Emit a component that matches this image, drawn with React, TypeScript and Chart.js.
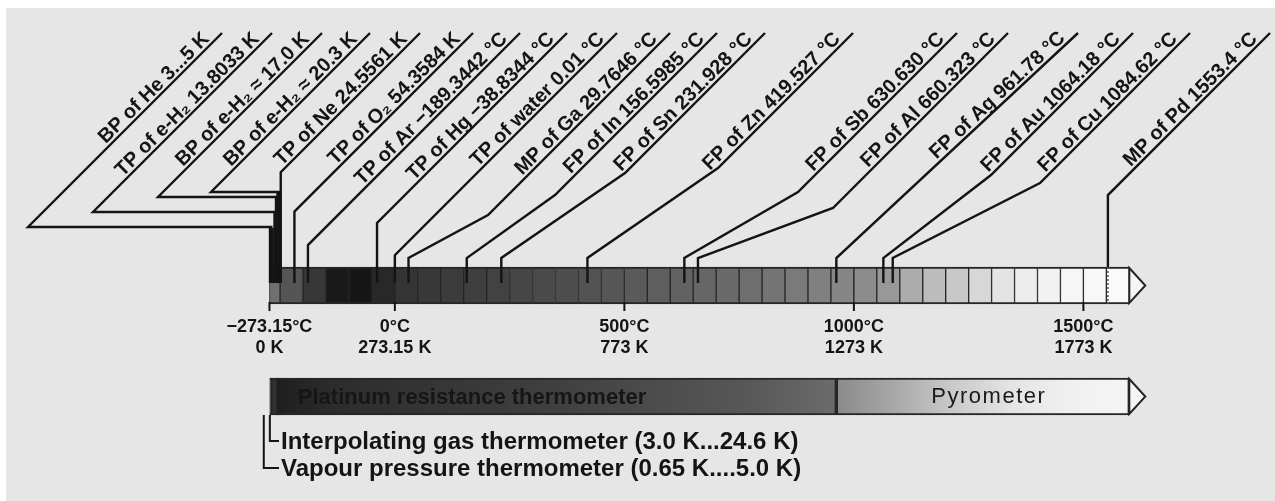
import React, { useEffect, useRef } from 'react';
import { Chart, registerables } from 'chart.js';

Chart.register(...registerables);

// ---------------- data ----------------
const FIXED_POINT_LABELS = [
  'BP of He 3...5 K',
  'TP of e-H₂ 13.8033 K',
  'BP of e-H₂ ≈ 17.0 K',
  'BP of e-H₂ ≈ 20.3 K',
  'TP of Ne 24.5561 K',
  'TP of O₂ 54.3584 K',
  'TP of Ar −189.3442 °C',
  'TP of Hg −38.8344 °C',
  'TP of water 0.01 °C',
  'MP of Ga 29.7646 °C',
  'FP of In 156.5985 °C',
  'FP of Sn 231.928 °C',
  'FP of Zn 419.527 °C',
  'FP of Sb 630.630 °C',
  'FP of Al 660.323 °C',
  'FP of Ag 961.78 °C',
  'FP of Au 1064.18 °C',
  'FP of Cu 1084.62 °C',
  'MP of Pd 1553.4 °C',
];
// temperatures in °C
const FIXED_POINT_TEMP_C = [
  -269.15, -259.3467, -256.15, -252.85, -248.5939, -218.7916, -189.3442, -38.8344, 0.01,
  29.7646, 156.5985, 231.928, 419.527, 630.63, 660.323, 961.78, 1064.18, 1084.62, 1553.4,
];

const TICK_C = [-273.15, 0, 500, 1000, 1500];
const TICK_LABEL_C = ['−273.15°C', '0°C', '500°C', '1000°C', '1500°C'];
const TICK_LABEL_K = ['0 K', '273.15 K', '773 K', '1273 K', '1773 K'];

// scale cells (°C)
const CELL_EDGES_C = [
  -273.15, -250, -200, -150, -100, -50, 0, 50, 100, 150, 200, 250, 300, 350, 400, 450, 500,
  550, 600, 650, 700, 750, 800, 850, 900, 950, 1000, 1050, 1100, 1150, 1200, 1250, 1300,
  1350, 1400, 1450, 1500, 1550, 1600,
];

// thermometer ranges (°C)
const THERMO_NAMES = [
  'Vapour pressure thermometer (0.65 K....5.0 K)',
  'Interpolating gas thermometer (3.0 K...24.6 K)',
  'Platinum resistance thermometer',
  'Pyrometer',
];
const THERMO_FROM_C = [-272.5, -270.15, -259.3467, 961.78];
const THERMO_TO_C = [-268.15, -248.55, 961.78, 1600];

// ---------------- styles / layout ----------------
const CELL_SHADE = [
  112, 85, 55, 25, 22, 40, 52, 56, 60, 63, 66, 70, 74, 78, 82, 86, 90, 94, 98, 102, 106, 110,
  116, 122, 128, 134, 140, 152, 172, 188, 200, 215, 228, 236, 242, 246, 248, 250,
];
const THERMO_GRADIENT: [number, string][][] = [
  [[0, '#2a2a2a'], [1, '#2a2a2a']],
  [[0, '#333333'], [1, '#333333']],
  [[0, '#1e1e1e'], [0.1, '#2c2c2c'], [0.5, '#404040'], [0.85, '#585858'], [1, '#6c6c6c']],
  [[0, '#8a8a8a'], [0.2, '#a8a8a8'], [0.4, '#cacaca'], [0.6, '#e4e4e4'], [0.8, '#f0f0f0'], [1, '#f5f5f5']],
];
const THERMO_FLAT = ['#2a2a2a', '#333333', '#404040', '#cccccc'];

// label leader layout (pixels)
const LABEL_TOP_X = [222, 272, 322, 370, 420, 473, 520, 567, 617, 670, 717, 765, 853, 957, 1008, 1078, 1133, 1190, 1270];
const LABEL_VTOP_Y: (number | null)[] = [227, 212, 197, 192, null, null, null, null, null, 258, 258, 258, 258, 258, 258, 258, 258, 258, null];
const LABEL_KNEE_Y: (number | null)[] = [227, 212, 197, 192, null, null, null, null, null, 215, 195, 173, 168, 192, 208, null, 175, 183, null];
const LEADER_HEAVY = [true, true, true, true, false, false, false, false, false, false, false, false, false, false, false, false, false, false, false];
const LEADER_DOTTED_IN_BAR = [false, false, false, false, false, false, false, false, false, false, false, false, false, false, false, false, false, false, true];

const X_MIN_C = -860.2;
const X_MAX_C = 1917.4;
const H = 501;
const W = 1275;
const LABEL_TOP_Y = 33;
const SCALE_ROW_Y = 285.5;
const THERMO_ROW_Y = 396.5;
const BAR_THICK = 37;
const TICK_ROW1_Y = 327;
const TICK_ROW2_Y = 348;
const BRACKET_ROW_Y = [468, 441];
const INK = '#141414';
const PAPER = '#e6e6e6';
const FONT = '"Liberation Sans", Arial, Helvetica, sans-serif';

const overlay = {
  id: 'overlay',
  beforeDraw(chart: any) {
    const { ctx, width, height } = chart;
    ctx.save();
    ctx.fillStyle = '#ffffff';
    ctx.fillRect(0, 0, width, height);
    ctx.fillStyle = PAPER;
    ctx.fillRect(6, 8, width - 6, height - 8);
    ctx.restore();
  },
  afterDatasetsDraw(chart: any) {
    const { ctx } = chart;
    const xs = chart.scales.x;
    const ys = chart.scales.y;
    const X = (v: number) => xs.getPixelForValue(v);
    const Y = (v: number) => ys.getPixelForValue(v);
    const barTop = Y(SCALE_ROW_Y) - BAR_THICK / 2;
    const barBot = Y(SCALE_ROW_Y) + BAR_THICK / 2;
    const topY = Y(LABEL_TOP_Y);

    ctx.save();
    ctx.strokeStyle = INK;
    ctx.fillStyle = INK;
    ctx.lineJoin = 'miter';
    ctx.lineCap = 'butt';

    // arrow heads
    const arrow = (x0: number, yc: number, fill: string) => {
      ctx.beginPath();
      ctx.moveTo(x0, yc - BAR_THICK / 2 + 1);
      ctx.lineTo(x0 + 16, yc);
      ctx.lineTo(x0, yc + BAR_THICK / 2 - 1);
      ctx.closePath();
      ctx.fillStyle = fill;
      ctx.fill();
      ctx.lineWidth = 2;
      ctx.strokeStyle = '#262626';
      ctx.stroke();
    };
    arrow(X(CELL_EDGES_C[CELL_EDGES_C.length - 1]), Y(SCALE_ROW_Y), '#f6f6f6');
    arrow(X(THERMO_TO_C[3]), Y(THERMO_ROW_Y), '#f6f6f6');

    ctx.strokeStyle = INK;
    ctx.fillStyle = INK;

    // leaders + labels
    FIXED_POINT_TEMP_C.forEach((t, i) => {
      const ax = X(t);
      const tx = LABEL_TOP_X[i];
      const vt = LABEL_VTOP_Y[i];
      const vTop = vt == null ? topY + (tx - ax) : Y(vt);
      const start = LEADER_DOTTED_IN_BAR[i] ? barTop : barTop + 16;
      const pts: [number, number][] = [[ax, start], [ax, vTop]];
      const k = LABEL_KNEE_Y[i];
      if (vt != null && k != null) {
        const ky = Y(k);
        pts.push([tx - (ky - topY), ky]);
      }
      pts.push([tx, topY]);

      ctx.lineWidth = 2.4;
      ctx.beginPath();
      ctx.moveTo(pts[0][0], pts[0][1]);
      for (let j = 1; j < pts.length; j++) ctx.lineTo(pts[j][0], pts[j][1]);
      ctx.stroke();
      if (LEADER_HEAVY[i]) {
        ctx.lineWidth = 5;
        ctx.beginPath();
        ctx.moveTo(ax, barTop + 16);
        ctx.lineTo(ax, vTop + 1);
        ctx.stroke();
      }
      if (LEADER_DOTTED_IN_BAR[i]) {
        ctx.save();
        ctx.lineWidth = 1.5;
        ctx.strokeStyle = '#555';
        ctx.setLineDash([2, 2]);
        ctx.beginPath();
        ctx.moveTo(ax, barTop);
        ctx.lineTo(ax, barBot);
        ctx.stroke();
        ctx.restore();
      }

      const [px, py] = pts[pts.length - 2];
      const dx = tx - px;
      const dy = topY - py;
      const len = Math.hypot(dx, dy);
      const ux = dx / len;
      const uy = dy / len;
      const nx = uy;
      const ny = -ux;
      const inset = 13;
      const lift = 3.5;
      ctx.save();
      ctx.translate(tx - ux * inset + nx * lift, topY - uy * inset + ny * lift);
      ctx.rotate(Math.atan2(uy, ux));
      ctx.font = `bold 20px ${FONT}`;
      ctx.textAlign = 'right';
      ctx.textBaseline = 'alphabetic';
      ctx.fillText(FIXED_POINT_LABELS[i], 0, 0);
      ctx.restore();
    });

    // ticks + tick labels
    ctx.lineWidth = 2;
    ctx.font = `bold 18px ${FONT}`;
    ctx.textAlign = 'center';
    ctx.textBaseline = 'middle';
    TICK_C.forEach((t, i) => {
      const x = X(t);
      ctx.beginPath();
      ctx.moveTo(x, barBot - 2);
      ctx.lineTo(x, barBot + 7);
      ctx.stroke();
      ctx.fillText(TICK_LABEL_C[i], x, Y(TICK_ROW1_Y));
      ctx.fillText(TICK_LABEL_K[i], x, Y(TICK_ROW2_Y));
    });

    // thermometer texts
    const lowBot = Y(THERMO_ROW_Y) + BAR_THICK / 2;
    ctx.font = `bold 22px ${FONT}`;
    ctx.textAlign = 'left';
    ctx.fillStyle = '#161616';
    ctx.fillText(THERMO_NAMES[2], X(THERMO_FROM_C[2]) + 22, Y(THERMO_ROW_Y) + 1);
    ctx.fillStyle = '#1a1a1a';
    ctx.textAlign = 'center';
    ctx.font = `22px ${FONT}`;
    (ctx as any).letterSpacing = '1.5px';
    ctx.fillText(THERMO_NAMES[3], (X(THERMO_FROM_C[3]) + X(THERMO_TO_C[3])) / 2 + 6, Y(THERMO_ROW_Y));
    (ctx as any).letterSpacing = '0px';

    // brackets for the low-temperature thermometers
    ctx.strokeStyle = INK;
    ctx.fillStyle = INK;
    ctx.lineWidth = 2;
    ctx.font = `bold 24px ${FONT}`;
    ctx.textAlign = 'left';
    const bracketX = [X(THERMO_FROM_C[0]) - 6, X(THERMO_FROM_C[1]) - 1];
    [0, 1].forEach((i) => {
      const bx = bracketX[i];
      const by = Y(BRACKET_ROW_Y[i]);
      ctx.beginPath();
      ctx.moveTo(bx, lowBot);
      ctx.lineTo(bx, by);
      ctx.lineTo(279, by);
      ctx.stroke();
      ctx.fillText(THERMO_NAMES[i], 281, by + 1);
    });

    ctx.restore();
  },
};

export default function App() {
  const ref = useRef<HTMLCanvasElement>(null);
  useEffect(() => {
    const cellData = CELL_SHADE.map((_, i) => ({ x: [CELL_EDGES_C[i], CELL_EDGES_C[i + 1]], y: SCALE_ROW_Y }));
    const thermoData = THERMO_NAMES.map((_, i) => ({ x: [THERMO_FROM_C[i], THERMO_TO_C[i]], y: THERMO_ROW_Y }));
    const chart = new Chart(ref.current as HTMLCanvasElement, {
      type: 'bar',
      data: {
        datasets: [
          {
            label: 'ITS-90 scale',
            data: cellData as any,
            stack: 'row',
            barThickness: BAR_THICK,
            backgroundColor: CELL_SHADE.map((v) => `rgb(${v},${v},${v})`),
            borderColor: '#262626',
            borderWidth: { top: 2, bottom: 2, left: 1, right: 1 } as any,
            borderSkipped: false,
          },
          {
            label: 'Thermometers',
            data: thermoData as any,
            stack: 'row',
            barThickness: BAR_THICK,
            backgroundColor: (c: any) => {
              const i = c.dataIndex;
              const ch = c.chart;
              const sx = ch && ch.scales && ch.scales.x;
              if (!sx || i == null || i < 0 || i >= THERMO_NAMES.length) return '#555555';
              const x0 = sx.getPixelForValue(THERMO_FROM_C[i]);
              const x1 = sx.getPixelForValue(THERMO_TO_C[i]);
              if (!isFinite(x0) || !isFinite(x1) || x0 === x1) return THERMO_FLAT[i];
              const g = ch.ctx.createLinearGradient(x0, 0, x1, 0);
              THERMO_GRADIENT[i].forEach(([s, col]) => g.addColorStop(s, col));
              return g;
            },
            borderColor: '#262626',
            borderWidth: 2,
            borderSkipped: false,
          },
        ],
      },
      options: {
        indexAxis: 'y',
        animation: false,
        responsive: false,
        maintainAspectRatio: false,
        devicePixelRatio: 1,
        layout: { padding: 0 },
        events: [],
        plugins: { legend: { display: false }, tooltip: { enabled: false } },
        scales: {
          x: { type: 'linear', min: X_MIN_C, max: X_MAX_C, display: false, stacked: false },
          y: { type: 'linear', min: 0, max: H, reverse: true, display: false, offset: false },
        },
      },
      plugins: [overlay],
    } as any);
    return () => chart.destroy();
  }, []);
  return (
    <div style={{ position: 'fixed', left: 0, top: 0, width: W, height: H }}>
      <canvas ref={ref} width={W} height={H} style={{ display: 'block', width: W, height: H }} />
    </div>
  );
}
